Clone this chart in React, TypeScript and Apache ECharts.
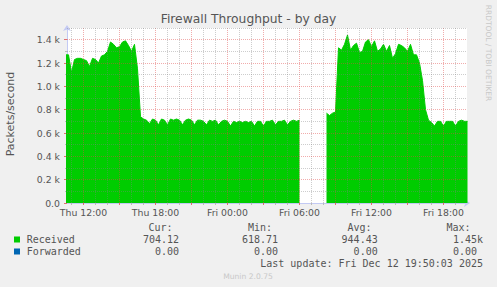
import React, { useEffect, useRef } from 'react';
import * as echarts from 'echarts';

// hours since Thu 00:00, 15-minute samples
const START_HOUR = 10.5;
const STEP_HOURS = 0.25;
const received: (number | null)[] = [
  1270, 1270, 1120, 1230, 1240, 1240, 1230, 1220, 1170, 1240, 1230, 1200, 1260, 1270, 1300, 1380,
  1360, 1330, 1340, 1380, 1390, 1350, 1300, 1360, 1150, 740, 720, 710, 680, 720, 710, 670,
  720, 710, 670, 720, 710, 720, 710, 670, 710, 720, 710, 670, 710, 710, 700, 670,
  710, 700, 710, 670, 700, 710, 700, 660, 700, 690, 700, 690, 700, 690, 700, 660,
  700, 700, 660, 700, 700, 710, 670, 700, 700, 710, 670, 700, 710, 700, 710,
  null, null, null, null, null, null, null, null,
  770, 750, 770, 780, 1330, 1310, 1360, 1440, 1310, 1350, 1370, 1290, 1300, 1380, 1400, 1340,
  1390, 1300, 1320, 1360, 1300, 1350, 1240, 1280, 1360, 1350, 1330, 1300, 1360, 1270, 1270, 1200,
  1050, 800, 710, 690, 660, 700, 700, 660, 700, 700, 700, 660, 700, 710, 700, 700,
];
const times = received.map((_, i) => START_HOUR + i * STEP_HOURS);

const X_MIN = 10.625;
const X_MAX = 43.9583;
const labelHours = [12, 18, 24, 30, 36, 42];
const labelTexts = ['Thu 12:00', 'Thu 18:00', 'Fri 00:00', 'Fri 06:00', 'Fri 12:00', 'Fri 18:00'];
const majorHours = [12, 15, 18, 21, 24, 27, 30, 33, 36, 39, 42];
const minorHours = [11, 13, 14, 16, 17, 19, 20, 22, 23, 25, 26, 28, 29, 31, 32, 34, 35, 37, 38, 40, 41, 43];
const yMajor = [200, 400, 600, 800, 1000, 1200, 1400];
const yMinor = [100, 300, 500, 700, 900, 1100, 1300, 1500];
const yLabelValues = [0, 200, 400, 600, 800, 1000, 1200, 1400];

const title = 'Firewall Throughput - by day';
const yName = 'Packets/second';
const legendNames = ['Received', 'Forwarded'];
const legendColors = ['#00cc00', '#0066b3'];
const statHeaders = ['Cur:', 'Min:', 'Avg:', 'Max:'];
const curValues = ['704.12', '0.00'];
const minValues = ['618.71', '0.00'];
const avgValues = ['944.43', '0.00'];
const maxValues = ['1.45k', '0.00'];
const lastUpdate = 'Last update: Fri Dec 12 19:50:03 2025';
const watermark = 'RRDTOOL / TOBI OETIKER';
const footer = 'Munin 2.0.75';

const MONO = 'DejaVu Sans Mono';
const SANS = 'DejaVu Sans';
const TXT = '#555';

export default function App() {
  const ref = useRef<HTMLDivElement>(null);
  useEffect(() => {
    if (!ref.current) return;
    const chart = echarts.init(ref.current, undefined, { renderer: 'svg' });
    const minorStyle = { color: 'rgba(130,130,130,0.4)', width: 1, type: [1, 1] };
    const majorStyle = { color: 'rgba(225,70,70,0.45)', width: 1, type: [1, 1] };

    const headerX = [172.5, 272, 371.5, 470.5];
    const colRight = [179, 278, 377.7, 483];
    const rowY = [239.5, 251.5];
    const graphics: any[] = [
      { type: 'text', x: 248.5, y: 19, style: { text: title, align: 'center', verticalAlign: 'middle', fill: TXT, font: `12.3px "${SANS}"` } },
      { type: 'text', x: 10.5, y: 114, rotation: Math.PI / 2, style: { text: yName, align: 'center', verticalAlign: 'middle', fill: TXT, font: `11px "${SANS}"` } },
      { type: 'text', x: 488, y: 53, rotation: -Math.PI / 2, style: { text: watermark, align: 'center', verticalAlign: 'middle', fill: '#c8c8c8', font: `7.5px "${SANS}"` } },
      { type: 'text', x: 248, y: 276, style: { text: footer, align: 'center', verticalAlign: 'middle', fill: '#c8c8c8', font: `7.6px "${SANS}"` } },
      { type: 'text', x: 483, y: 263.7, style: { text: lastUpdate, align: 'right', verticalAlign: 'middle', fill: TXT, font: `10px "${MONO}"` } },
    ];
    statHeaders.forEach((h, i) => {
      graphics.push({ type: 'text', x: headerX[i], y: 227.5, style: { text: h, align: 'right', verticalAlign: 'middle', fill: TXT, font: `10px "${MONO}"` } });
    });
    legendNames.forEach((name, r) => {
      graphics.push({ type: 'rect', shape: { x: 14, y: rowY[r] - 3, width: 6, height: 6 }, style: { fill: legendColors[r] } });
      graphics.push({ type: 'text', x: 26.7, y: rowY[r], style: { text: name, align: 'left', verticalAlign: 'middle', fill: TXT, font: `10px "${MONO}"` } });
      const vals = [curValues[r], minValues[r], avgValues[r], maxValues[r]];
      vals.forEach((v, c) => {
        const x = c === 3 && !/[a-zA-Z]$/.test(v) ? colRight[c] - 6 : colRight[c];
        graphics.push({ type: 'text', x, y: rowY[r], style: { text: v, align: 'right', verticalAlign: 'middle', fill: TXT, font: `10px "${MONO}"` } });
      });
    });

    chart.setOption({
      animation: false,
      backgroundColor: '#f0f0f0',
      grid: { left: 67, top: 28, width: 400, height: 175, show: true, backgroundColor: '#ffffff', borderWidth: 0, containLabel: false },
      xAxis: [
        {
          type: 'value', min: X_MIN, max: X_MAX, position: 'bottom',
          axisLine: { show: true, lineStyle: { color: '#c3caf4', width: 1 }, symbol: ['none', 'arrow'], symbolSize: [6, 6], symbolOffset: [0, 3] },
          axisTick: { show: true, customValues: majorHours, length: 2, lineStyle: { color: '#e07070' } },
          axisLabel: {
            customValues: labelHours, margin: 5, color: TXT, fontSize: 9.33, fontFamily: SANS,
            formatter: (v: number) => { const i = labelHours.indexOf(Math.round(v)); return i >= 0 ? labelTexts[i] : ''; },
          },
          splitLine: { show: false },
        },
        {
          type: 'value', min: X_MIN, max: X_MAX, position: 'bottom',
          axisLine: { show: false },
          axisTick: { show: true, customValues: minorHours, length: 2, lineStyle: { color: '#bbbbbb' } },
          axisLabel: { show: false },
          splitLine: { show: false },
        },
      ],
      yAxis: [
        {
          type: 'value', min: 0, max: 1500, position: 'left',
          axisLine: { show: true, lineStyle: { color: '#c3caf4', width: 1 }, symbol: ['none', 'arrow'], symbolSize: [6, 6], symbolOffset: [0, 3] },
          axisTick: { show: true, customValues: yLabelValues, length: 3, lineStyle: { color: '#e07070' } },
          axisLabel: {
            customValues: yLabelValues, margin: 7, color: TXT, fontSize: 9.33, fontFamily: SANS,
            formatter: (v: number) => (v === 0 ? '0.0' : (v / 1000).toFixed(1) + ' k'),
          },
          splitLine: { show: false },
        },
        {
          type: 'value', min: 0, max: 1500, position: 'left',
          axisLine: { show: false },
          axisTick: { show: true, customValues: yMinor, length: 2, lineStyle: { color: '#bbbbbb' } },
          axisLabel: { show: false },
          splitLine: { show: false },
        },
      ],
      series: [
        {
          name: legendNames[0], type: 'line', xAxisIndex: 0, yAxisIndex: 0,
          data: times.map((t, i) => [t, received[i]]),
          showSymbol: false, connectNulls: false, z: 2,
          lineStyle: { width: 1, color: legendColors[0] },
          areaStyle: { color: legendColors[0], opacity: 1 },
        },
        {
          type: 'line', xAxisIndex: 0, yAxisIndex: 0, data: [], z: 5, silent: true,
          markLine: {
            silent: true, symbol: ['none', 'none'], label: { show: false }, animation: false,
            emphasis: { disabled: true },
            data: [
              ...minorHours.map((h) => ({ xAxis: h, lineStyle: minorStyle })),
              ...majorHours.map((h) => ({ xAxis: h, lineStyle: majorStyle })),
              ...yMinor.map((v) => ({ yAxis: v, lineStyle: minorStyle })),
              ...yMajor.map((v) => ({ yAxis: v, lineStyle: majorStyle })),
            ],
          },
        },
      ],
      graphic: graphics,
    });
    return () => chart.dispose();
  }, []);
  return <div ref={ref} style={{ position: 'fixed', left: 0, top: 0, width: 497, height: 287 }} />;
}
